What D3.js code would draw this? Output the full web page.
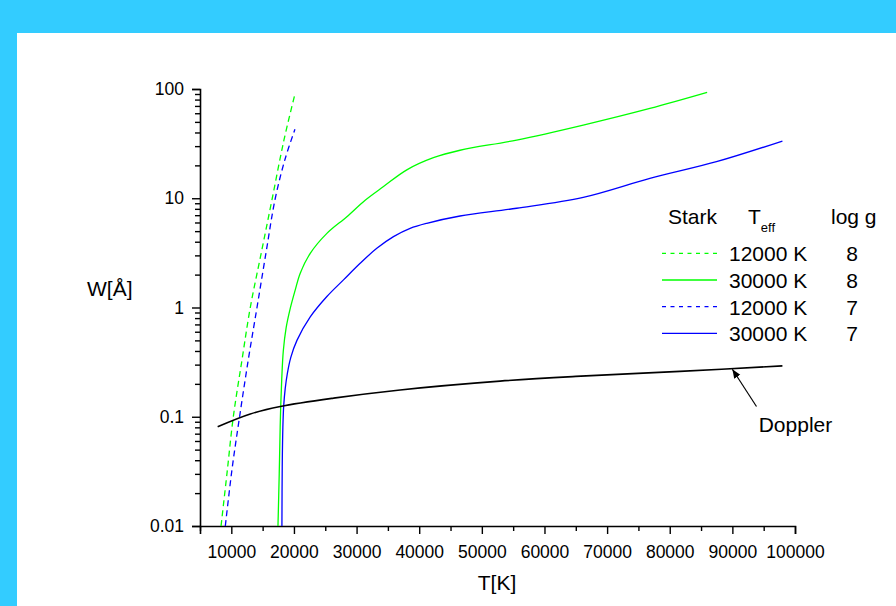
<!DOCTYPE html>
<html>
<head>
<meta charset="utf-8">
<script src="https://cdn.jsdelivr.net/npm/d3@7"></script>
<style>
  html, body { margin: 0; padding: 0; background: #33CCFF; }
  svg { display: block; font-family: "Liberation Sans", Arial, sans-serif; }
</style>
</head>
<body>
<svg id="chart" width="896" height="606"></svg>
<script>
// Line widths W (Å) against temperature T (K)

// Stark widths, Teff = 12000 K, log g = 8
const stark12k_g8_T = [8360, 9300, 10320, 11700, 13030, 14800, 16540, 18400, 20160];
const stark12k_g8_W = [0.01, 0.03, 0.1, 0.33, 1.0, 3.2, 10, 34, 90];

// Stark widths, Teff = 30000 K, log g = 8
const stark30k_g8_T = [17450, 17650, 17800, 17900, 18050, 18300, 18750, 19410, 20210, 21005, 22600, 25260, 28450, 31370, 34300, 38020, 42270, 46520, 55560, 66190, 76830, 85970];
const stark30k_g8_W = [0.01, 0.03, 0.08, 0.13, 0.22, 0.4, 0.65, 0.98, 1.45, 2.06, 3.13, 4.77, 6.78, 9.6, 12.8, 18.2, 23.5, 27.5, 34.1, 46.8, 66.5, 93.3];

// Stark widths, Teff = 12000 K, log g = 7
const stark12k_g7_T = [9043, 10110, 11320, 12700, 14100, 15550, 17020, 18600, 20160];
const stark12k_g7_W = [0.01, 0.033, 0.1, 0.33, 1.0, 3.2, 10, 23, 42.8];

// Stark widths, Teff = 30000 K, log g = 7
const stark30k_g7_T = [18080, 18130, 18230, 18360, 18600, 18950, 19500, 20480, 22600, 25260, 27910, 30570, 33230, 35890, 38550, 41210, 46520, 55560, 66190, 76830, 87460, 97990];
const stark30k_g7_W = [0.01, 0.035, 0.08, 0.125, 0.18, 0.25, 0.35, 0.5, 0.82, 1.26, 1.79, 2.54, 3.48, 4.45, 5.3, 5.9, 6.88, 8.1, 10.2, 15.2, 21.6, 33.4];

// Doppler width
const dopplerT = [7820, 13030, 17815, 26320, 36950, 52900, 65000, 81610, 97990];
const dopplerW = [0.081, 0.106, 0.124, 0.148, 0.176, 0.212, 0.234, 0.26, 0.292];

// Axis ticks
const xMajorTicks = [10000, 20000, 30000, 40000, 50000, 60000, 70000, 80000, 90000, 100000];
const xMinorTicks = [5000, 15000, 25000, 35000, 45000, 55000, 65000, 75000, 85000, 95000];
const yMajorTicks = [0.01, 0.1, 1, 10, 100];
const yTickLabels = ["0.01", "0.1", "1", "10", "100"];

// Legend
const legendTeff = ["12000 K", "30000 K", "12000 K", "30000 K"];
const legendLogg = ["8", "8", "7", "7"];
const legendColors = ["#00FF00", "#00FF00", "#0000FF", "#0000FF"];
const legendDashed = [true, false, true, false];

// Doppler annotation: arrow tip on the curve, tail and label below it
const dopplerArrowTip = [90000, 0.272];
const dopplerArrowTail = [93850, 0.124];
const dopplerLabelAt = [94200, 0.0724];

const svg = d3.select("#chart");

// Page frame: cyan border with a white panel
svg.append("rect").attr("x", 0).attr("y", 0).attr("width", 896).attr("height", 606).attr("fill", "#33CCFF");
svg.append("rect").attr("x", 17).attr("y", 33).attr("width", 879).attr("height", 573).attr("fill", "#FFFFFF");

const x = d3.scaleLinear().domain([5000, 100000]).range([200, 795]);
const y = d3.scaleLog().domain([0.01, 100]).range([526, 89]);

// Minor y ticks (2..9 in each decade)
const yMinorTicks = [];
for (let e = -2; e < 2; e++) {
  for (let m = 2; m <= 9; m++) yMinorTicks.push(m * Math.pow(10, e));
}

const axisColor = "#000";

// Y axis
const yMinor = svg.append("g").attr("transform", `translate(${x(5000)},0)`)
  .call(d3.axisLeft(y).tickValues(yMinorTicks).tickSize(5).tickFormat(""));
const yMajor = svg.append("g").attr("transform", `translate(${x(5000)},0)`)
  .call(d3.axisLeft(y).tickValues(yMajorTicks).tickSize(8).tickPadding(8)
    .tickFormat((d, i) => yTickLabels[i]));

// X axis
const xMinor = svg.append("g").attr("transform", `translate(0,${y(0.01)})`)
  .call(d3.axisBottom(x).tickValues(xMinorTicks).tickSize(5).tickFormat(""));
const xMajor = svg.append("g").attr("transform", `translate(0,${y(0.01)})`)
  .call(d3.axisBottom(x).tickValues(xMajorTicks).tickSize(8).tickPadding(12)
    .tickFormat(d3.format("d")));

[yMinor, yMajor, xMinor, xMajor].forEach(g => {
  g.selectAll(".domain").attr("stroke", axisColor).attr("stroke-width", 1.6);
  g.selectAll(".tick line").attr("stroke", axisColor).attr("stroke-width", 1.4);
  g.selectAll("text").attr("font-size", 17.5).attr("fill", "#000")
    .attr("font-family", "'Liberation Sans', Arial, sans-serif");
});
// the minor axes only contribute ticks; the major axes draw the domain lines
yMinor.select(".domain").remove();
xMinor.select(".domain").remove();

// Axis titles
svg.append("text").attr("x", 497).attr("y", 590).attr("text-anchor", "middle")
  .attr("font-size", 21).text("T[K]");
svg.append("text").attr("x", 87).attr("y", 296).attr("text-anchor", "start")
  .attr("font-size", 21).text("W[Å]");

// Curves
const line = d3.line()
  .x(d => x(d[0]))
  .y(d => y(d[1]))
  .curve(d3.curveCatmullRom.alpha(0.5));

const zip = (a, b) => a.map((v, i) => [v, b[i]]);

const series = [
  { T: stark12k_g8_T, W: stark12k_g8_W, color: "#00FF00", dash: "6,4", width: 1.3 },
  { T: stark30k_g8_T, W: stark30k_g8_W, color: "#00FF00", dash: null, width: 1.3 },
  { T: stark12k_g7_T, W: stark12k_g7_W, color: "#0000FF", dash: "6,4", width: 1.3 },
  { T: stark30k_g7_T, W: stark30k_g7_W, color: "#0000FF", dash: null, width: 1.3 },
  { T: dopplerT, W: dopplerW, color: "#000000", dash: null, width: 1.6 }
];

series.forEach(s => {
  svg.append("path")
    .datum(zip(s.T, s.W))
    .attr("d", line)
    .attr("fill", "none")
    .attr("stroke", s.color)
    .attr("stroke-width", s.width)
    .attr("stroke-dasharray", s.dash);
});

// Doppler annotation arrow
svg.append("defs").append("marker")
  .attr("id", "arrowhead")
  .attr("viewBox", "0 0 10 10")
  .attr("refX", 10).attr("refY", 5)
  .attr("markerWidth", 9).attr("markerHeight", 9)
  .attr("markerUnits", "userSpaceOnUse")
  .attr("orient", "auto")
  .append("path").attr("d", "M0,1 L10,5 L0,9 Z").attr("fill", "#000");

svg.append("line")
  .attr("x1", x(dopplerArrowTail[0])).attr("y1", y(dopplerArrowTail[1]))
  .attr("x2", x(dopplerArrowTip[0])).attr("y2", y(dopplerArrowTip[1]))
  .attr("stroke", "#000").attr("stroke-width", 1.2)
  .attr("marker-end", "url(#arrowhead)");

svg.append("text")
  .attr("x", x(dopplerLabelAt[0])).attr("y", y(dopplerLabelAt[1]))
  .attr("font-size", 21).text("Doppler");

// Legend
const legend = svg.append("g");
legend.append("text").attr("x", 668).attr("y", 224).attr("font-size", 21).text("Stark");
const teffHead = legend.append("text").attr("x", 748).attr("y", 224).attr("font-size", 21);
teffHead.append("tspan").text("T");
teffHead.append("tspan").attr("font-size", 13).attr("dy", 8).text("eff");
legend.append("text").attr("x", 831).attr("y", 224).attr("font-size", 21).text("log g");

legendTeff.forEach((label, i) => {
  const cy = 253.3 + i * 26.7;
  legend.append("line")
    .attr("x1", 662).attr("x2", 717).attr("y1", cy).attr("y2", cy)
    .attr("stroke", legendColors[i]).attr("stroke-width", 1.3)
    .attr("stroke-dasharray", legendDashed[i] ? "4,4.5" : null);
  legend.append("text").attr("x", 729).attr("y", cy + 8).attr("font-size", 21).text(label);
  legend.append("text").attr("x", 852).attr("y", cy + 8).attr("font-size", 21)
    .attr("text-anchor", "middle").text(legendLogg[i]);
});
</script>
</body>
</html>
